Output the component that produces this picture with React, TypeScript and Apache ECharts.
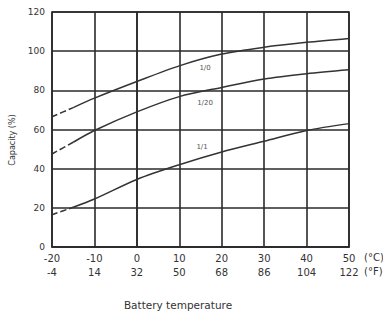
import React, { useEffect, useRef } from "react";
import * as echarts from "echarts";

const tempC = [-20, -15, -10, 0, 10, 20, 30, 40, 50];
const curveTop = [66.5, 71.2, 76, 84.5, 92.5, 98.5, 102, 104.5, 106.5];
const curveMid = [47.5, 53.5, 59.5, 69, 76.8, 81.5, 85.8, 88.5, 90.5];
const curveBot = [16.5, 20.3, 24.5, 34.5, 42, 48.5, 54, 59.5, 63];
const curveNames = ["1/0", "1/20", "1/1"];
const dashUntil = -15;

const yTicks = [0, 20, 40, 60, 80, 100, 120];

const toF = (c: number) => Math.round((c * 9) / 5 + 32);

function split(vals: number[]) {
  const dash: number[][] = [];
  const solid: number[][] = [];
  tempC.forEach((t, i) => {
    if (t <= dashUntil) dash.push([t, vals[i]]);
    if (t >= dashUntil) solid.push([t, vals[i]]);
  });
  return { dash, solid };
}

export default function App() {
  const ref = useRef<HTMLDivElement>(null);
  useEffect(() => {
    if (!ref.current) return;
    const chart = echarts.init(ref.current, undefined, { renderer: "svg" });
    const lineColor = "#333333";
    const series: any[] = [];
    [curveTop, curveMid, curveBot].forEach((vals, k) => {
      const { dash, solid } = split(vals);
      series.push({
        type: "line",
        name: curveNames[k] + " ext",
        data: dash,
        smooth: 0.3,
        symbol: "none",
        lineStyle: { color: lineColor, width: 1.5, type: [6, 3] },
      });
      series.push({
        type: "line",
        name: curveNames[k],
        data: solid,
        smooth: 0.3,
        symbol: "none",
        lineStyle: { color: lineColor, width: 1.5 },
      });
    });
    const font = "DejaVu Sans, sans-serif";
    chart.setOption({
      animation: false,
      backgroundColor: "#ffffff",
      grid: {
        left: 52,
        right: 34,
        top: 12,
        bottom: 67,
        show: true,
        borderColor: "#2a2a2a",
        borderWidth: 1.6,
      },
      xAxis: {
        type: "value",
        min: -20,
        max: 50,
        interval: 10,
        axisLine: { show: true, lineStyle: { color: "#2a2a2a", width: 1.6 } },
        axisTick: { show: false },
        splitLine: { show: true, lineStyle: { color: "#2a2a2a", width: 1.6 } },
        axisLabel: {
          margin: 4,
          color: "#333",
          fontSize: 10,
          fontFamily: font,
          lineHeight: 14.5,
          formatter: (v: number) => `${v}\n${toF(v)}`,
        },
      },
      yAxis: {
        type: "value",
        min: yTicks[0],
        max: yTicks[yTicks.length - 1],
        interval: 20,
        axisLine: { show: true, lineStyle: { color: "#2a2a2a", width: 1.6 } },
        axisTick: { show: false },
        splitLine: { show: true, lineStyle: { color: "#2a2a2a", width: 1.6 } },
        axisLabel: { margin: 7, color: "#333", fontSize: 9, fontFamily: font },
      },
      series,
      graphic: [
        { type: "text", left: 364, top: 252, style: { text: "(°C)", fontSize: 10, fill: "#333", fontFamily: font } },
        { type: "text", left: 364, top: 266, style: { text: "(°F)", fontSize: 10, fill: "#333", fontFamily: font } },
        {
          type: "text",
          x: 12,
          y: 140,
          rotation: Math.PI / 2,
          style: { text: "Capacity (%)", fontSize: 8, fill: "#333", fontFamily: font, align: "center", verticalAlign: "middle" },
        },
        {
          type: "text",
          x: 178,
          y: 305,
          style: { text: "Battery temperature", fontSize: 10.5, fill: "#333", fontFamily: font, align: "center", verticalAlign: "middle" },
        },
        { type: "text", x: 205, y: 68, style: { text: curveNames[0], fontSize: 7, fill: "#555", fontFamily: font, align: "center", verticalAlign: "middle" } },
        { type: "text", x: 205, y: 103, style: { text: curveNames[1], fontSize: 7, fill: "#555", fontFamily: font, align: "center", verticalAlign: "middle" } },
        { type: "text", x: 202, y: 147, style: { text: curveNames[2], fontSize: 7, fill: "#555", fontFamily: font, align: "center", verticalAlign: "middle" } },
      ],
    });
    return () => chart.dispose();
  }, []);
  return (
    <div
      ref={ref}
      style={{ position: "fixed", left: 0, top: 0, width: 383, height: 314, background: "#fff" }}
    />
  );
}
